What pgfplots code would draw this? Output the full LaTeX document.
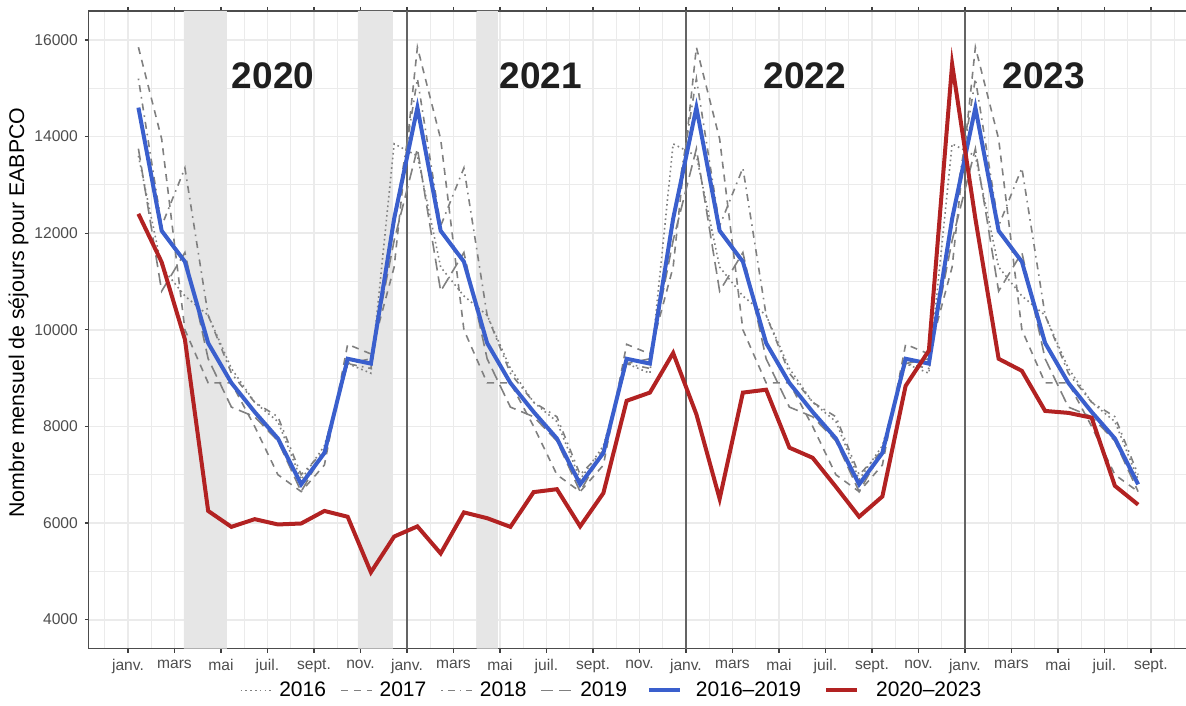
\documentclass[border=0pt]{standalone}
\usepackage{fontspec}
\setmainfont{Liberation Sans}
\usepackage{pgfplots}
\pgfplotsset{compat=1.18}
\usepackage{pgfplotstable}
\definecolor{refblue}{RGB}{58,95,205}
\definecolor{refred}{RGB}{178,34,34}
\definecolor{refgray}{RGB}{128,128,128}
\definecolor{gridc}{RGB}{235,235,235}
\definecolor{shadec}{RGB}{230,230,230}
\definecolor{vlinec}{RGB}{100,100,100}
\definecolor{tickc}{RGB}{77,77,77}

\pgfplotstableread{
x y16 y17 y18 y19 avg red
0.45 13600 15850 15200 13750 14600 12400
1.45 11300 13950 12150 10800 12050 11400
2.45 10700 10000 13350 11600 11410 9800
3.45 10300 8900 10300 9400 9725 6250
4.45 9200 8900 9100 8400 8900 5920
5.45 8500 8000 8500 8200 8300 6080
6.45 8100 7000 8200 7700 7750 5970
7.45 6900 6650 7000 6650 6800 5990
8.45 7600 7200 7500 7500 7450 6250
9.45 9300 9700 9300 9300 9400 6130
10.45 9100 9500 9200 9400 9300 4980
11.45 13850 11300 12200 11850 12300 5720
12.45 13600 15850 15200 13750 14600 5930
13.45 11300 13950 12150 10800 12050 5370
14.45 10700 10000 13350 11600 11410 6220
15.45 10300 8900 10300 9400 9725 6100
16.45 9200 8900 9100 8400 8900 5920
17.45 8500 8000 8500 8200 8300 6640
18.45 8100 7000 8200 7700 7750 6700
19.45 6900 6650 7000 6650 6800 5930
20.45 7600 7200 7500 7500 7450 6620
21.45 9300 9700 9300 9300 9400 8530
22.45 9100 9500 9200 9400 9300 8700
23.45 13850 11300 12200 11850 12300 9520
24.45 13600 15850 15200 13750 14600 8250
25.45 11300 13950 12150 10800 12050 6500
26.45 10700 10000 13350 11600 11410 8700
27.45 10300 8900 10300 9400 9725 8760
28.45 9200 8900 9100 8400 8900 7560
29.45 8500 8000 8500 8200 8300 7350
30.45 8100 7000 8200 7700 7750 6750
31.45 6900 6650 7000 6650 6800 6130
32.45 7600 7200 7500 7500 7450 6550
33.45 9300 9700 9300 9300 9400 8840
34.45 9100 9500 9200 9400 9300 9570
35.45 13850 11300 12200 11850 12300 15500
36.45 13600 15850 15200 13750 14600 12300
37.45 11300 13950 12150 10800 12050 9400
38.45 10700 10000 13350 11600 11410 9150
39.45 10300 8900 10300 9400 9725 8320
40.45 9200 8900 9100 8400 8900 8280
41.45 8500 8000 8500 8200 8300 8180
42.45 8100 7000 8200 7700 7750 6770
43.45 6900 6650 7000 6650 6800 6380
}\data

\begin{document}
\begin{tikzpicture}
\useasboundingbox (-44.45pt,-28.5pt) rectangle (548.55pt,324.3pt);
\begin{axis}[
  at={(0pt,0pt)}, anchor=south west,
  scale only axis, width=549.6pt, height=318.8pt,
  xmin=-1.68, xmax=45.6, ymin=3400, ymax=16600,
  xtick={0,2,...,44},
  xticklabels={janv.,mars,mai,juil.,sept.,nov.,janv.,mars,mai,juil.,sept.,nov.,janv.,mars,mai,juil.,sept.,nov.,janv.,mars,mai,juil.,sept.},
  minor xtick={-1,1,...,45},
  ytick={4000,6000,...,16000},
  minor ytick={5000,7000,...,15000},
  scaled y ticks=false,
  /pgf/number format/1000 sep={},
  /pgf/number format/assume math mode=true,
  tick align=outside, major tick length=2pt, minor tick length=0pt,
  major tick style={color=black!75, line width=0.6pt},
  grid=both,
  major grid style={color=gridc, line width=0.9pt},
  minor grid style={color=gridc, line width=0.5pt},
  axis line style={color=black!70, line width=0.6pt},
  ticklabel style={font=\fontsize{7.8}{9}\selectfont, text=tickc},
  ylabel={Nombre mensuel de séjours pour EABPCO},
  every axis y label/.style={at={(axis description cs:-0.064,0.527)}, rotate=90, anchor=center, font=\fontsize{10.65}{12}\selectfont},
  legend columns=6,
  legend image code/.code={\draw[#1] (0pt,0pt) -- (15.5pt,0pt);},
  legend style={at={(0.4745,-0.0655)}, anchor=center, draw=none, fill=none, inner sep=0pt,
    font=\fontsize{10.5}{12}\selectfont, nodes={inner xsep=0pt, inner ysep=1pt},
    /tikz/column 1/.style={column sep=3.5pt},
    /tikz/column 2/.style={column sep=7pt},
    /tikz/column 3/.style={column sep=3.5pt},
    /tikz/column 4/.style={column sep=7pt},
    /tikz/column 5/.style={column sep=3.5pt},
    /tikz/column 6/.style={column sep=7pt},
    /tikz/column 7/.style={column sep=3.5pt},
    /tikz/column 8/.style={column sep=10pt},
    /tikz/column 9/.style={column sep=7pt},
    /tikz/column 10/.style={column sep=11.5pt},
    /tikz/column 11/.style={column sep=8.5pt}},
]
% lockdown shading
\addplot[fill=shadec, draw=none, forget plot] coordinates {(2.4,3400) (4.25,3400) (4.25,16600) (2.4,16600)} \closedcycle;
\addplot[fill=shadec, draw=none, forget plot] coordinates {(9.89,3400) (11.4,3400) (11.4,16600) (9.89,16600)} \closedcycle;
\addplot[fill=shadec, draw=none, forget plot] coordinates {(15.0,3400) (15.91,3400) (15.91,16600) (15.0,16600)} \closedcycle;
% year separators
\addplot[vlinec, line width=1pt, forget plot] coordinates {(12,3400) (12,16600)};
\addplot[vlinec, line width=1pt, forget plot] coordinates {(24,3400) (24,16600)};
\addplot[vlinec, line width=1pt, forget plot] coordinates {(36,3400) (36,16600)};
% reference years
\addplot[refgray, line width=0.8pt, dash pattern=on 0.8pt off 1.6pt] table[x=x, y=y16] {\data};
\addlegendentry{2016}
\addplot[refgray, line width=0.8pt, dash pattern=on 3.5pt off 3pt] table[x=x, y=y17] {\data};
\addlegendentry{2017}
\addplot[refgray, line width=0.8pt, dash pattern=on 0.8pt off 2.5pt on 3.5pt off 2.5pt] table[x=x, y=y18] {\data};
\addlegendentry{2018}
\addplot[refgray, line width=0.8pt, dash pattern=on 6pt off 3pt] table[x=x, y=y19] {\data};
\addlegendentry{2019}
\addplot[refblue, line width=2pt] table[x=x, y=avg] {\data};
\addlegendentry{2016–2019}
\addplot[refred, line width=2pt] table[x=x, y=red] {\data};
\addlegendentry{2020–2023}
% year labels
\node[font=\fontsize{18.5}{20}\selectfont\bfseries, text=black!88] at (axis cs:6.24,15250) {2020};
\node[font=\fontsize{18.5}{20}\selectfont\bfseries, text=black!88] at (axis cs:17.76,15250) {2021};
\node[font=\fontsize{18.5}{20}\selectfont\bfseries, text=black!88] at (axis cs:29.12,15250) {2022};
\node[font=\fontsize{18.5}{20}\selectfont\bfseries, text=black!88] at (axis cs:39.4,15250) {2023};
\end{axis}
\end{tikzpicture}
\end{document}
